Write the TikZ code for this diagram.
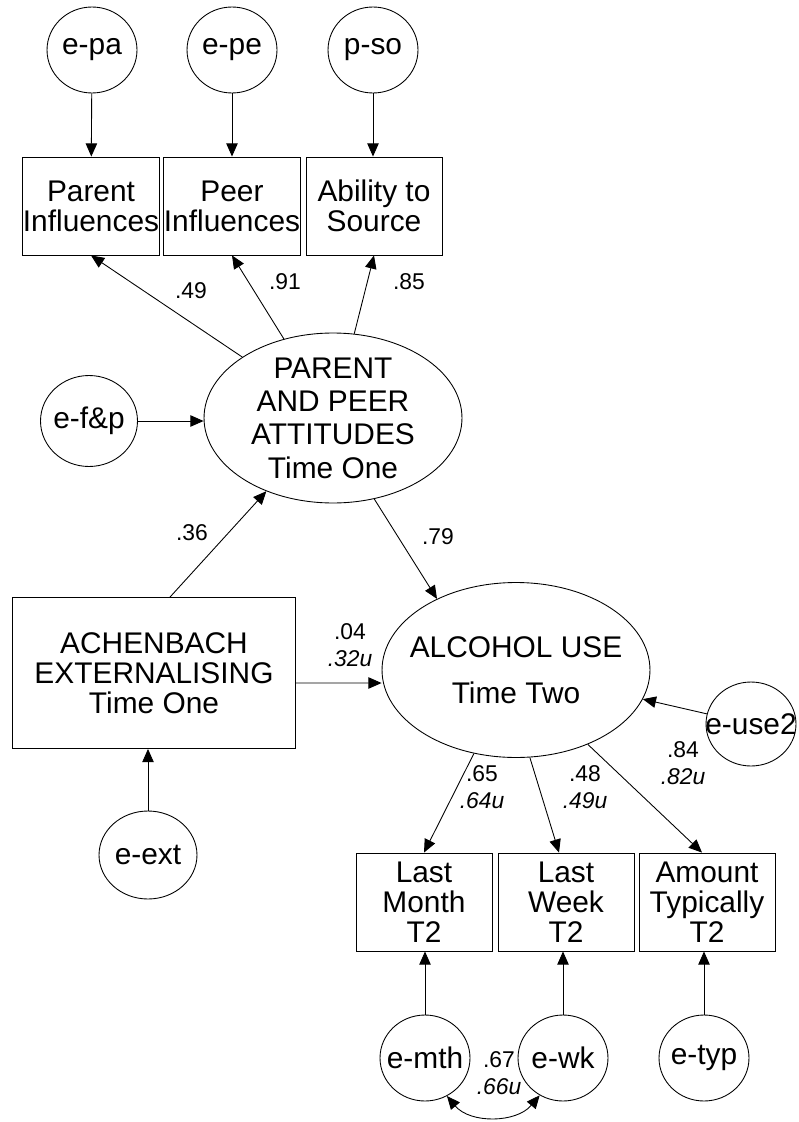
\documentclass[tikz,border=0pt]{standalone}
\usepackage{fontspec}
\setmainfont{Liberation Sans}
\usetikzlibrary{arrows.meta, shapes.geometric}

\begin{document}
\begin{tikzpicture}[x=0.02cm, y=-0.02cm, >={Triangle[length=7.5pt, width=6.5pt]}, line width=0.5pt]
	\tikzstyle{every node} = [font=\fontsize{17}{17}\selectfont, align=center, inner sep=0pt]
	\tikzstyle{errvar} = [draw, ellipse, inner sep=-8pt, minimum width=1.8cm, minimum height=1.72cm]
	\tikzstyle{measure} = [draw, rectangle, minimum width=2.72cm, minimum height=1.96cm]
	\tikzstyle{latent} = [draw, ellipse, inner sep=-8pt]
	\tikzstyle{coef} = [font=\fontsize{13}{15.5}\selectfont]
	\useasboundingbox (0,0) rectangle (798,1122);
	% parent and peer attitudes, time one
	\node[errvar] (epa) at (92, 50) {e-pa};
	\node[errvar] (epe) at (232, 50) {e-pe};
	\node[errvar] (pso) at (373, 50) {p-so};
	\node[measure] (parinf) at (91, 206) {Parent\\Influences};
	\node[measure] (peerinf) at (232, 206) {Peer\\Influences};
	\node[measure] (source) at (374, 206) {Ability to\\Source};
	\node[latent, minimum width=5.16cm, minimum height=3.4cm, font=\fontsize{17}{19}\selectfont] (PA) at (333, 418) {PARENT\\AND PEER\\ATTITUDES\\Time One};
	\node[errvar, minimum width=1.94cm, minimum height=1.82cm] (efp) at (89, 421) {e-f\&p};
	% externalising and alcohol use
	\node[draw, rectangle, minimum width=5.66cm, minimum height=3.02cm] (achen) at (154, 673) {ACHENBACH\\EXTERNALISING\\Time One};
	\node[errvar, minimum width=1.96cm, minimum height=1.76cm] (eext) at (148, 855) {e-ext};
	\node[latent, minimum width=5.36cm, minimum height=3.5cm] (ALC) at (516, 670) {ALCOHOL USE\\[9pt]Time Two};
	\node[errvar, minimum height=1.68cm] (euse) at (751, 724) {e-use2};
	\node[measure] (lm) at (424, 902) {Last\\Month\\T2};
	\node[measure] (lw) at (566, 902) {Last\\Week\\T2};
	\node[measure] (amt) at (707, 902) {Amount\\Typically\\T2};
	\node[errvar] (emth) at (425, 1058) {e-mth};
	\node[errvar] (ewk) at (563, 1058) {e-wk};
	\node[errvar] (etyp) at (704, 1058) {e-typ};
	% coefficients
	\node[coef] (c49) at (191, 291) {.49};
	\node[coef] (c91) at (285, 282) {.91};
	\node[coef] (c85) at (409, 282) {.85};
	\node[coef] (c36) at (192, 533) {.36};
	\node[coef] (c79) at (438, 537) {.79};
	\node[coef] (c04) at (350, 645) {.04\\\textit{.32u}};
	\node[coef] (c65) at (482, 787) {.65\\\textit{.64u}};
	\node[coef] (c48) at (585, 787) {.48\\\textit{.49u}};
	\node[coef] (c84) at (683, 763) {.84\\\textit{.82u}};
	\node[coef] (c67) at (499, 1073) {.67\\\textit{.66u}};
	% paths
	\draw [->] (epa)--(parinf);
	\draw [->] (epe)--(peerinf);
	\draw [->] (pso.south)--(pso.south |- source.north);
	\draw [->] (PA)--(parinf.south);
	\draw [->] (PA)--(peerinf.south);
	\draw [->] (PA)--(source.south);
	\draw [->] (efp.east)--(efp.east -| PA.west);
	\draw [->] ([xshift=0.32cm]achen.north)--(PA);
	\draw [->] (eext.north)--(eext.north |- achen.south);
	\draw [->] (PA.297)--(ALC.138);
	\draw [->] ([yshift=-0.2cm]achen.east)--([yshift=-0.26cm]ALC.west);
	\draw [->] (euse)--(ALC);
	\draw [->] (ALC)--(lm.north);
	\draw [->] (ALC.279)--([xshift=-0.14cm]lw.north);
	\draw [->] (ALC.314)--([xshift=-0.1cm]amt.north);
	\draw [->] (emth.north)--(emth.north |- lm.south);
	\draw [->] (ewk.north)--(ewk.north |- lw.south);
	\draw [->] (etyp.north)--(etyp.north |- amt.south);
	\draw [<->] (emth.300) to[out=-50, in=-130] (ewk.238);
\end{tikzpicture}
\end{document}
